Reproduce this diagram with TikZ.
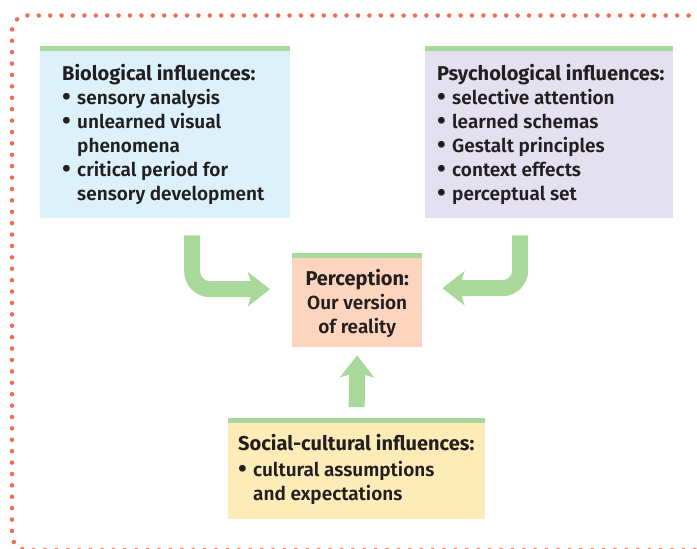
\documentclass[tikz,border=0pt]{standalone}
\usepackage{fontspec}
\setmainfont{Fira Sans}[UprightFont={* SemiBold}, BoldFont={* Bold}]
\usetikzlibrary{arrows.meta,positioning}

\definecolor{barGreen}{HTML}{A9D89B}
\definecolor{dotRed}{HTML}{F26C4F}
\definecolor{bioBlue}{HTML}{DDF1FB}
\definecolor{psyLilac}{HTML}{E3E0F0}
\definecolor{perPeach}{HTML}{FDD4BE}
\definecolor{socYellow}{HTML}{FDEBB8}
\definecolor{ink}{HTML}{231F20}

\newcommand{\bul}{\makebox[15pt][l]{\raisebox{-0.6pt}{\scalebox{1.35}{\textbullet}}}}
\newcommand{\ind}{\hspace*{15pt}}
\newcommand{\hd}[1]{{\fontsize{20}{24}\selectfont\bfseries #1}}

\begin{document}
\begin{tikzpicture}[x=1pt, y=-1pt,
    box/.style={rectangle, inner sep=0pt, anchor=north west,
      path picture={\fill[barGreen] (path picture bounding box.north west)
        rectangle ([yshift=-4.5pt]path picture bounding box.north east);}},
    txt/.style={anchor=north west, align=left, inner sep=0pt, text=ink,
      font=\fontsize{19}{24}\selectfont},
    bigarrow/.style={draw=barGreen, line width=16pt, rounded corners=18pt,
      -{Stealth[length=22pt, width=34pt, inset=5pt]}},
    dotline/.style={draw=dotRed, line width=4.5pt, line cap=round,
      dash pattern=on 0pt off 11.4pt}]
    \clip (0,0) rectangle (697,549);
    \useasboundingbox (0,0) rectangle (697,549);
    % dotted frame, open to the right
    \draw[dotline, rounded corners=15pt] (700,15.5) -- (12,15.5) -- (12,550) -- (700,550);
    % boxes
    \node[box, fill=bioBlue, minimum width=250pt, minimum height=172pt] (bio) at (40,46) {};
    \node[box, fill=psyLilac, minimum width=248pt, minimum height=172pt] (psy) at (425,46) {};
    \node[box, fill=perPeach, minimum width=130pt, minimum height=94pt] (per) at (292,253) {};
    \node[box, fill=socYellow, minimum width=257pt, minimum height=101pt] (soc) at (228,418) {};
    % texts
    \node[txt] (biotext) at (62,64) {\hd{Biological influences:}\\
        \bul sensory analysis\\
        \bul unlearned visual\\
        \ind phenomena\\
        \bul critical period for\\
        \ind sensory development};
    \node[txt] (psytext) at (437,64) {\hd{Psychological influences:}\\
        \bul selective attention\\
        \bul learned schemas\\
        \bul Gestalt principles\\
        \bul context effects\\
        \bul perceptual set};
    \node[txt, anchor=center, align=center] (pertext) at ([yshift=-3pt]per.center) {\hd{Perception:}\\
        Our version\\
        of reality};
    \node[txt] (soctext) at (238,434) {\hd{Social-cultural influences:}\\[2pt]
        \bul cultural assumptions\\
        \ind and expectations};
    % arrows into perception
    \draw[bigarrow] ([xshift=27pt, yshift=-17pt]bio.south) |- ([xshift=-22pt, yshift=11pt]per.west);
    \draw[bigarrow] ([xshift=-29pt, yshift=-17pt]psy.south) |- ([xshift=20pt, yshift=12pt]per.east);
    \draw[bigarrow] ([yshift=11pt]soc.north) -- ([yshift=-8pt]per.south);
\end{tikzpicture}
\end{document}
